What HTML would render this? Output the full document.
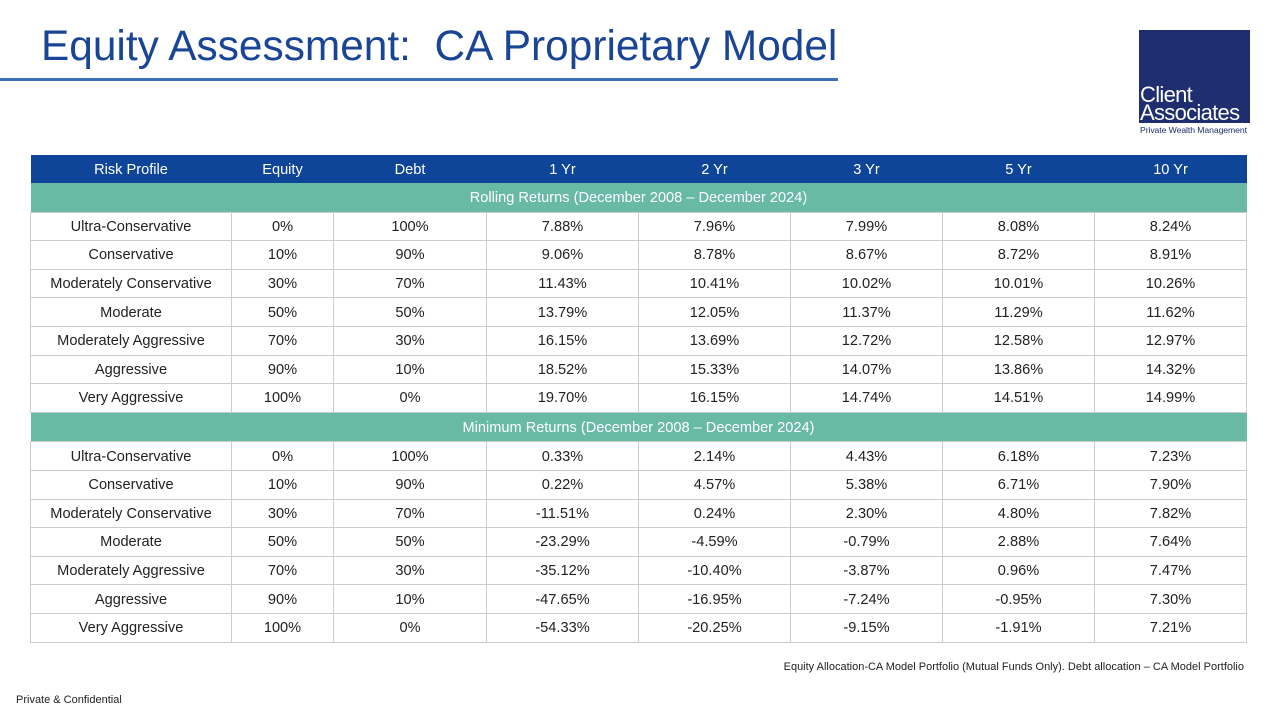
<!DOCTYPE html>
<html><head><meta charset="utf-8"><style>
body{margin:0;width:1280px;height:720px;background:#fff;position:relative;overflow:hidden;font-family:"Liberation Sans",sans-serif}
.title{position:absolute;left:41px;top:22px;font-size:42.4px;color:#1a4595;white-space:nowrap}
.uline{position:absolute;left:0;top:78px;width:838px;height:3px;background:#3a6fb8}
.logo{position:absolute;left:1139px;top:30px;width:111px;height:93px;background:#1f2e6e}
.logo .t{position:absolute;left:1px;color:#fff;font-size:22px;line-height:20px;letter-spacing:-0.7px;white-space:nowrap}
.sub{position:absolute;left:1140px;top:125px;font-size:8.7px;color:#1f2e6e;white-space:nowrap;letter-spacing:-0.1px}
table{position:absolute;left:30px;top:155px;border-collapse:collapse;font-size:14.6px;color:#222}
td,th{text-align:center;padding:1px 0 0 0;height:26.6px;border:1px solid #ccc}
th{background:#0e4599;color:#fff;font-weight:normal;height:27px;border:none}
tr.band td{background:#69b9a7;color:#fff;border:none;height:27.6px}
.foot{position:absolute;right:36px;top:661px;font-size:11px;color:#222}
.conf{position:absolute;left:16px;top:694px;font-size:11px;color:#222}
</style></head><body>
<div class="title">Equity Assessment:&nbsp; CA Proprietary Model</div>
<div class="uline"></div>
<div class="logo"><div class="t" style="top:55px">Client</div><div class="t" style="top:73px">Associates</div></div>
<div class="sub">Private Wealth Management</div>
<table>
<colgroup><col style="width:201px"><col style="width:102px"><col style="width:153px"><col style="width:152px"><col style="width:152px"><col style="width:152px"><col style="width:152px"><col style="width:152px"></colgroup>
<tr><th>Risk Profile</th><th>Equity</th><th>Debt</th><th>1 Yr</th><th>2 Yr</th><th>3 Yr</th><th>5 Yr</th><th>10 Yr</th></tr>
<tr class="band"><td colspan="8">Rolling Returns (December 2008 – December 2024)</td></tr>
<tr><td>Ultra-Conservative</td><td>0%</td><td>100%</td><td>7.88%</td><td>7.96%</td><td>7.99%</td><td>8.08%</td><td>8.24%</td></tr>
<tr><td>Conservative</td><td>10%</td><td>90%</td><td>9.06%</td><td>8.78%</td><td>8.67%</td><td>8.72%</td><td>8.91%</td></tr>
<tr><td>Moderately Conservative</td><td>30%</td><td>70%</td><td>11.43%</td><td>10.41%</td><td>10.02%</td><td>10.01%</td><td>10.26%</td></tr>
<tr><td>Moderate</td><td>50%</td><td>50%</td><td>13.79%</td><td>12.05%</td><td>11.37%</td><td>11.29%</td><td>11.62%</td></tr>
<tr><td>Moderately Aggressive</td><td>70%</td><td>30%</td><td>16.15%</td><td>13.69%</td><td>12.72%</td><td>12.58%</td><td>12.97%</td></tr>
<tr><td>Aggressive</td><td>90%</td><td>10%</td><td>18.52%</td><td>15.33%</td><td>14.07%</td><td>13.86%</td><td>14.32%</td></tr>
<tr><td>Very Aggressive</td><td>100%</td><td>0%</td><td>19.70%</td><td>16.15%</td><td>14.74%</td><td>14.51%</td><td>14.99%</td></tr>
<tr class="band"><td colspan="8">Minimum Returns (December 2008 – December 2024)</td></tr>
<tr><td>Ultra-Conservative</td><td>0%</td><td>100%</td><td>0.33%</td><td>2.14%</td><td>4.43%</td><td>6.18%</td><td>7.23%</td></tr>
<tr><td>Conservative</td><td>10%</td><td>90%</td><td>0.22%</td><td>4.57%</td><td>5.38%</td><td>6.71%</td><td>7.90%</td></tr>
<tr><td>Moderately Conservative</td><td>30%</td><td>70%</td><td>-11.51%</td><td>0.24%</td><td>2.30%</td><td>4.80%</td><td>7.82%</td></tr>
<tr><td>Moderate</td><td>50%</td><td>50%</td><td>-23.29%</td><td>-4.59%</td><td>-0.79%</td><td>2.88%</td><td>7.64%</td></tr>
<tr><td>Moderately Aggressive</td><td>70%</td><td>30%</td><td>-35.12%</td><td>-10.40%</td><td>-3.87%</td><td>0.96%</td><td>7.47%</td></tr>
<tr><td>Aggressive</td><td>90%</td><td>10%</td><td>-47.65%</td><td>-16.95%</td><td>-7.24%</td><td>-0.95%</td><td>7.30%</td></tr>
<tr><td>Very Aggressive</td><td>100%</td><td>0%</td><td>-54.33%</td><td>-20.25%</td><td>-9.15%</td><td>-1.91%</td><td>7.21%</td></tr>
</table>
<div class="foot">Equity Allocation-CA Model Portfolio (Mutual Funds Only). Debt allocation – CA Model Portfolio</div>
<div class="conf">Private &amp; Confidential</div>
</body></html>
